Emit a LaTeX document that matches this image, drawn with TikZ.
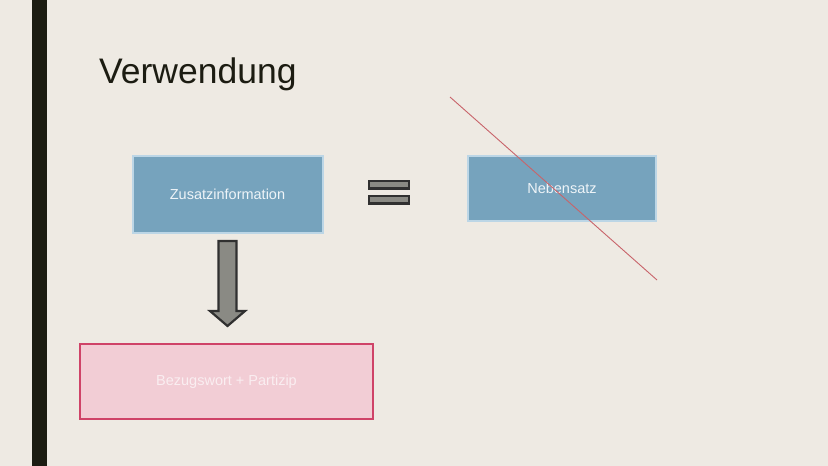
\documentclass[tikz,border=0pt]{standalone}
\usepackage{fontspec}
\setmainfont{Liberation Sans}
\definecolor{bg}{HTML}{EEEAE3}
\definecolor{barc}{HTML}{1C1C12}
\definecolor{bluef}{HTML}{76A3BD}
\definecolor{blued}{HTML}{BCD6E6}
\definecolor{pinkf}{HTML}{F2CDD5}
\definecolor{pinkd}{HTML}{CF4368}
\definecolor{grayf}{HTML}{8A8A84}
\definecolor{grayd}{HTML}{303030}
\definecolor{redl}{HTML}{C8646A}
\definecolor{boxtext}{HTML}{EEF4F8}
\definecolor{pinktext}{HTML}{FAEEF1}
\tikzset{
  bluebox/.style={draw=blued, line width=2pt, fill=bluef, text=boxtext, font=\fontsize{14.5}{16}\selectfont, inner sep=0pt},
  pinkbox/.style={draw=pinkd, line width=2.6pt, fill=pinkf, text=pinktext, font=\fontsize{14.5}{16}\selectfont, inner sep=0pt},
  eqbar/.style={draw=grayd, line width=2.4pt, fill=grayf},
}
\begin{document}
\begin{tikzpicture}[x=1pt,y=-1pt]
\useasboundingbox (0,0) rectangle (828,466);
\fill[bg] (0,0) rectangle (828,466);
\fill[barc] (32,0) rectangle (47,466);
\node[anchor=base west, inner sep=0pt, text=barc, font=\fontsize{35.5}{40}\selectfont] (title) at (99,83) {Verwendung};
% boxes
\node[bluebox, minimum width=190pt, minimum height=77pt] (zus) at (227.5,194) {Zusatzinformation};
\node[bluebox, minimum width=188pt, minimum height=65pt] (neb) at (562,188.5) {Nebensatz};
\node[pinkbox, minimum width=293pt, minimum height=75pt] (bez) at (226.5,381.5) {Bezugswort + Partizip};
% equals sign
\draw[eqbar] (369,181) rectangle (409,188.5);
\draw[eqbar] (369,196) rectangle (409,203.5);
% arrow
\coordinate (atop) at (227.5,241);
\coordinate (atip) at (227.5,326);
\draw[grayd, line width=2.2pt, fill=grayf, line join=miter]
  (218.5,241) -- (236.5,241) -- (236.5,311) -- (245,311) -- (227.5,326) -- (210,311) -- (218.5,311) -- cycle;
% red strike line
\coordinate (rs) at (450,97);
\coordinate (re) at (657,280);
\draw[redl, line width=0.9pt] (rs) -- (re);
\end{tikzpicture}
\end{document}
